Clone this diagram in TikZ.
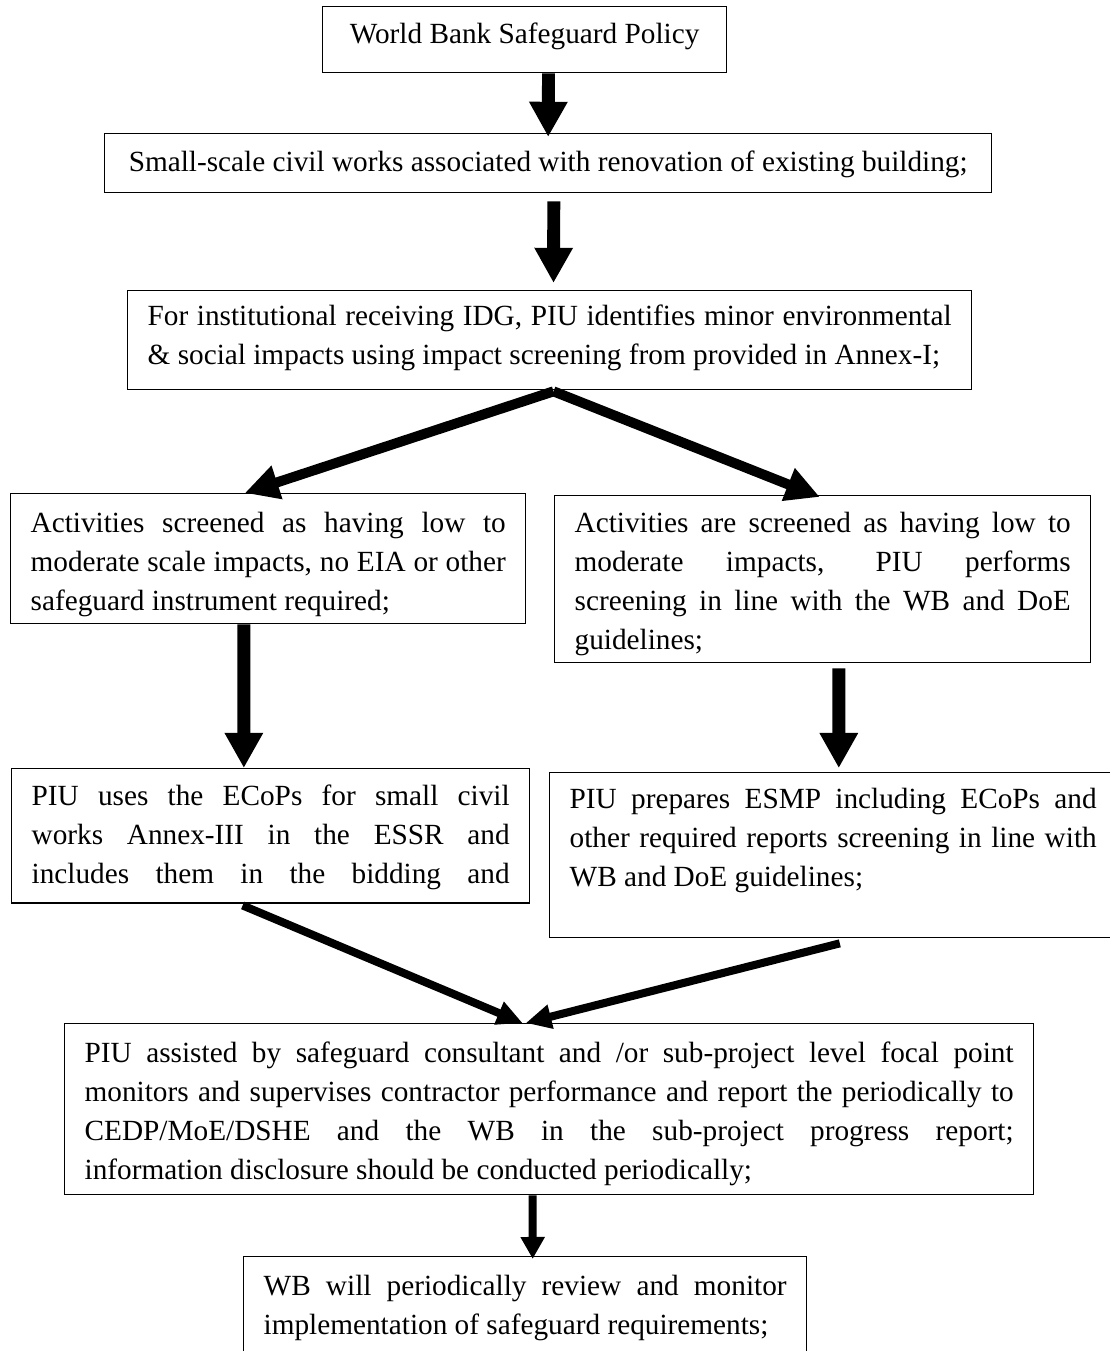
\documentclass[tikz,border=0pt]{standalone}
\usepackage{fontspec}
\setmainfont{Liberation Serif}
\usetikzlibrary{arrows.meta}
\tikzset{
  box/.style={draw, line width=0.55pt, anchor=north west, inner ysep=0pt,
    inner xsep=8.2pt, align=justify, font=\fontsize{12pt}{16pt}\selectfont},
  fat/.style={line width=5.3pt, -{Triangle[width=14.8pt,length=14.4pt]}},
  split/.style={line width=4.1pt, -{Triangle[width=13.5pt,length=13.9pt]}},
  merge/.style={line width=3.3pt, -{Triangle[width=9.5pt,length=10.5pt]}},
  lastarrow/.style={line width=3.3pt, -{Triangle[width=9.4pt,length=9pt]}}
}
\begin{document}
\begin{tikzpicture}[x=0.41pt,y=-0.41pt]
    \useasboundingbox (0,0) rectangle (1110,1351);
    \clip (0,0) rectangle (1110,1351);
    %% top of the chart
    \node[box, align=center, minimum width=165.6pt, text height=15.2pt, text depth=11.9pt]
        (wb) at (322,6) {World Bank Safeguard Policy};
    \node[box, align=center, minimum width=363.7pt, text height=15.6pt, text depth=8.6pt]
        (works) at (104,133) {Small-scale civil works associated with renovation of existing building;};
    \node[box, text width=329.6pt, text height=14.4pt, text depth=26.2pt]
        (inst) at (127,290) {For institutional receiving IDG, PIU identifies minor environmental\linebreak
        \& social impacts using impact screening from provided in Annex-I;};
    %% two screening branches
    \node[box, text width=194.8pt, text height=16pt, text depth=37.3pt]
        (low) at (10,493) {Activities screened as having low to\linebreak
        moderate scale impacts, no EIA or other\linebreak safeguard instrument required;};
    \node[box, text width=203.4pt, text height=15.2pt, text depth=53.3pt]
        (mod) at (554,495) {Activities are screened as having low to\linebreak
        moderate impacts, PIU performs\linebreak screening in line with the WB and DoE\linebreak guidelines;};
    \node[box, text width=196pt, text height=15.2pt, text depth=39.8pt]
        (ecop) at (11,768) {PIU uses the ECoPs for small civil\linebreak
        works Annex-III in the ESSR and\linebreak includes them in the bidding and\linebreak};
    \node[box, text width=216.1pt, text height=14.8pt, text depth=52.9pt]
        (esmp) at (549,772) {PIU prepares ESMP including ECoPs and\linebreak
        other required reports screening in line with\linebreak WB and DoE guidelines;};
    %% monitoring
    \node[box, text width=380.9pt, text height=16pt, text depth=54.1pt]
        (mon) at (64,1023) {PIU assisted by safeguard consultant and /or sub-project level focal point\linebreak
        monitors and supervises contractor performance and report the periodically to\linebreak
        CEDP/MoE/DSHE and the WB in the sub-project progress report;\linebreak
        information disclosure should be conducted periodically;};
    \node[box, text width=214.4pt, text height=16pt, text depth=30.8pt]
        (rev) at (243,1256) {WB will periodically review and monitor\linebreak
        implementation of safeguard requirements;};
    %% arrows
    \draw[fat] ([xshift=9.8pt]wb.south) -- ([yshift=-1.6pt]works.north);
    \draw[fat] ([xshift=2.3pt,yshift=-3.3pt]works.south) -- ([xshift=1.6pt,yshift=2.9pt]inst.north);
    \draw[split] ([xshift=1.6pt,yshift=-0.4pt]inst.south) -- ([xshift=-9.6pt]low.north);
    \draw[split] ([xshift=1.6pt,yshift=-0.4pt]inst.south) -- ([xshift=-1.2pt,yshift=-0.8pt]mod.north);
    \draw[fat] ([xshift=-10pt]low.south) -- ([xshift=-11pt]ecop.north);
    \draw[fat] ([xshift=6.6pt,yshift=-2pt]mod.south) -- ([xshift=2.3pt,yshift=1.6pt]esmp.north);
    \draw[merge] ([xshift=-11.5pt,yshift=-0.8pt]ecop.south) -- ([xshift=-10.9pt]mon.north);
    \draw[merge] ([xshift=2.7pt,yshift=-2pt]esmp.south) -- ([xshift=-9.6pt]mon.north);
    \draw[lastarrow] ([xshift=-6.8pt]mon.south) -- ([xshift=3.1pt,yshift=-1.2pt]rev.north);
\end{tikzpicture}
\end{document}
